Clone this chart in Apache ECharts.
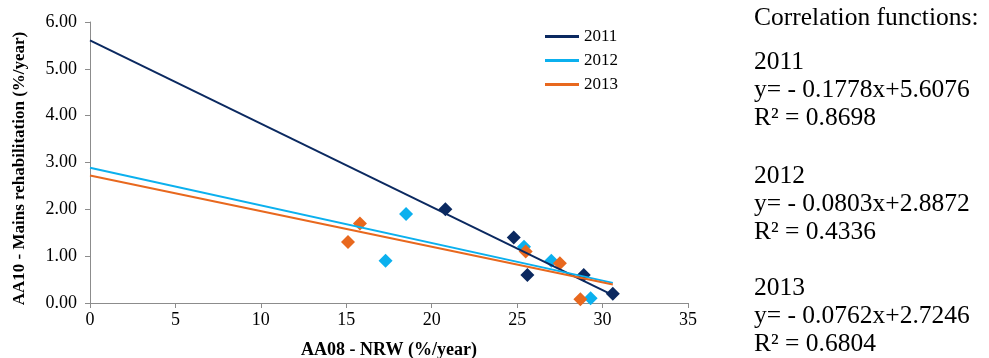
<!DOCTYPE html>
<html>
<head>
<meta charset="utf-8">
<script src="https://cdn.jsdelivr.net/npm/echarts@6/dist/echarts.min.js"></script>
<style>html,body{margin:0;padding:0;background:#fff}#c{width:989px;height:358px}</style>
</head>
<body>
<div id="c"></div>
<script>
var years = ['2011', '2012', '2013'];
var points2011 = [[20.8, 2.0], [24.8, 1.4], [25.6, 0.6], [28.9, 0.6], [30.6, 0.2]];
var points2012 = [[18.5, 1.9], [17.3, 0.9], [25.4, 1.2], [27.0, 0.9], [29.3, 0.1]];
var points2013 = [[15.1, 1.3], [15.8, 1.7], [25.5, 1.1], [27.5, 0.85], [28.7, 0.08]];
// trend line end points (x from 0 to 30.6), values from the printed equations
var trend2011 = [[0, 5.6076], [30.6, 0.167]];
var trend2012 = [[0, 2.8872], [30.6, 0.430]];
var trend2013 = [[0, 2.7246], [30.6, 0.393]];
var xTicks = [0, 5, 10, 15, 20, 25, 30, 35];
var yTicks = [0, 1, 2, 3, 4, 5, 6];
var infoLines = [
  'Correlation functions:',
  '2011', 'y= - 0.1778x+5.6076', 'R² = 0.8698',
  '2012', 'y= - 0.0803x+2.8872', 'R² = 0.4336',
  '2013', 'y= - 0.0762x+2.7246', 'R² = 0.6804'
];

var colors = ['#0B2960', '#0BB0EE', '#E8681E'];
var font = '"Liberation Serif", "Times New Roman", serif';
var pointSets = [points2011, points2012, points2013];
var trendSets = [trend2011, trend2012, trend2013];

var series = [];
pointSets.forEach(function (p, i) {
  series.push({
    name: years[i] + ' data', type: 'scatter', data: p,
    symbol: 'diamond', symbolSize: 14,
    itemStyle: { color: colors[i], opacity: 1 }, z: 2, silent: true
  });
});
trendSets.forEach(function (t, i) {
  series.push({
    name: years[i], type: 'line', data: t, symbol: 'none',
    lineStyle: { color: colors[i], width: 2 }, itemStyle: { color: colors[i] }, z: 3, silent: true
  });
});

var infoY = [18, 62, 90, 118, 176, 204, 232, 288, 316, 344];
var graphics = infoLines.map(function (s, i) {
  return {
    type: 'text', left: 754, top: infoY[i] - 13,
    style: { text: s, font: '25.5px ' + font, fill: '#000', lineHeight: 26 }
  };
});

var chart = echarts.init(document.getElementById('c'));
chart.setOption({
  animation: false,
  backgroundColor: '#fff',
  grid: { left: 90, right: 301, top: 22, bottom: 55, containLabel: false, outerBoundsMode: 'none' },
  legend: {
    data: years, orient: 'vertical', left: 540, top: 23,
    icon: 'rect', itemWidth: 34, itemHeight: 3, itemGap: 7,
    textStyle: { fontFamily: font, fontSize: 17, color: '#000', lineHeight: 17 }
  },
  xAxis: {
    type: 'value', min: xTicks[0], max: xTicks[xTicks.length - 1], interval: 5,
    name: 'AA08 - NRW (%/year)', nameLocation: 'middle', nameGap: 38,
    nameTextStyle: { fontFamily: font, fontSize: 18, fontWeight: 'bold', color: '#000' },
    axisLine: { lineStyle: { color: '#8C8C8C', width: 1 } },
    axisTick: { show: true, length: 5, lineStyle: { color: '#8C8C8C' } },
    axisLabel: { fontFamily: font, fontSize: 18, color: '#000', margin: 8 },
    splitLine: { show: false }
  },
  yAxis: {
    type: 'value', min: yTicks[0], max: yTicks[yTicks.length - 1], interval: 1,
    name: 'AA10 - Mains rehabilitation (%/year)', nameLocation: 'middle', nameGap: 62,
    nameTextStyle: { fontFamily: font, fontSize: 17, fontWeight: 'bold', color: '#000', padding: [0, 12, 0, 0] },
    axisLine: { show: true, lineStyle: { color: '#8C8C8C', width: 1 } },
    axisTick: { show: true, length: 5, lineStyle: { color: '#8C8C8C' } },
    axisLabel: { fontFamily: font, fontSize: 18, color: '#000', margin: 13,
      formatter: function (v) { return v.toFixed(2); } },
    splitLine: { show: false }
  },
  graphic: graphics,
  series: series
});
</script>
</body>
</html>
